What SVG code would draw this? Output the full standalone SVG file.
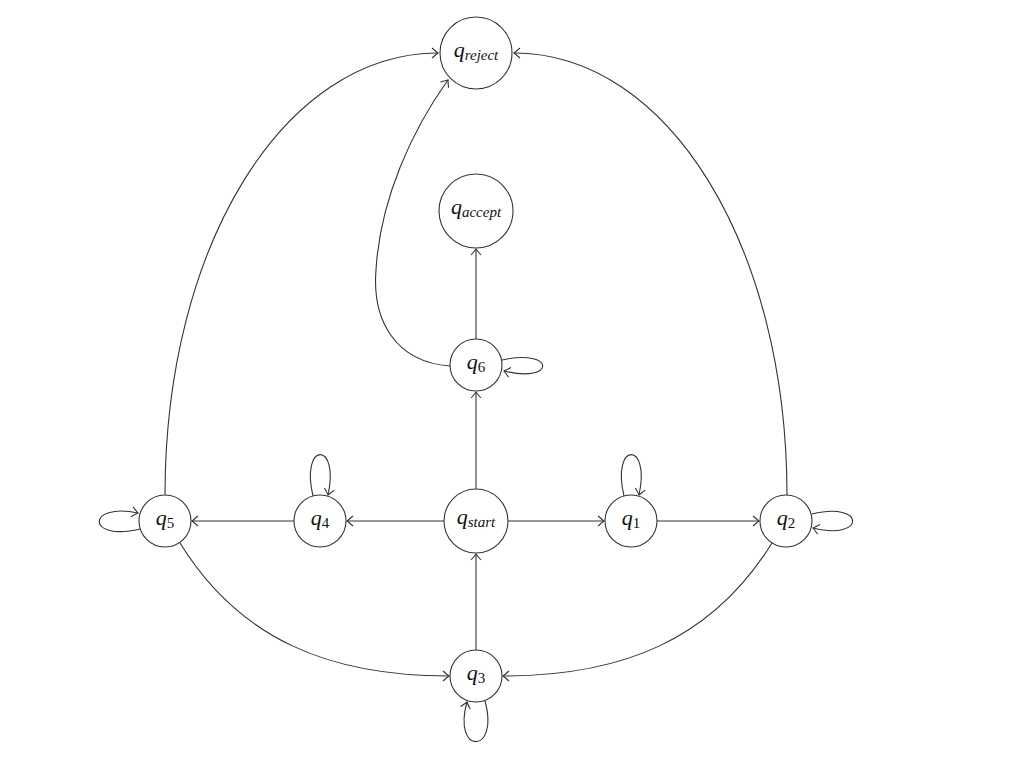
<svg xmlns="http://www.w3.org/2000/svg" width="1024" height="763" viewBox="0 0 1024 763">
<style>
.st{fill:#fff;stroke:#333;stroke-width:1.1}
.e{fill:none;stroke:#333;stroke-width:1.1;marker-end:url(#ah)}
.l{font-family:"Liberation Serif","DejaVu Serif",serif;font-style:italic;fill:#111;font-size:22px}
.s{font-size:15px}
.d{font-size:15px;font-style:normal}
</style>
<defs>
<marker id="ah" markerUnits="userSpaceOnUse" markerWidth="14" markerHeight="14" viewBox="-8 -7 10 14" refX="0" refY="0" orient="auto">
<path d="M-6,-5 Q-1.5,-1 0,0 Q-1.5,1 -6,5" fill="none" stroke="#333" stroke-width="1.1"/>
</marker>
</defs>
<rect width="1024" height="763" fill="#fff"/>
<g id="connectors">
<path class="e" d="M165,495 C165,246 284,53 438,53"/>
<path class="e" d="M787,495 C787,246 668,53 514,53"/>
<path class="e" d="M450,366 C395,362 372,320 376,270 C380,200 412,130 448,80"/>
<path class="e" d="M476,339 L476,249"/>
<path class="e" d="M476,489 L476,392"/>
<path class="e" d="M444,521 L347,521"/>
<path class="e" d="M294,521 L192,521"/>
<path class="e" d="M508,521 L604,521"/>
<path class="e" d="M657,521 L759,521"/>
<path class="e" d="M476,650 L476,554"/>
<path class="e" d="M180,543 C240,640 330,676 449,676"/>
<path class="e" d="M772,543 C712,640 622,676 503,676"/>
<path class="e" d="M313,496 C300,441 340,441 328,495"/>
<path class="e" d="M624,496 C611,441 651,441 639,495"/>
<path class="e" d="M502,360 C556,348 556,384 504,371"/>
<path class="e" d="M812,514 C866,501 866,541 813,528"/>
<path class="e" d="M140,529 C86,542 86,502 138,513"/>
<path class="e" d="M485,701 C500,755 452,755 467,702"/>
</g>
<g id="q_reject"><circle class="st" cx="476" cy="53" r="36"/><text class="l" x="476" y="57" text-anchor="middle">q<tspan class="s" dy="3">reject</tspan></text></g>
<g id="q_accept"><circle class="st" cx="476" cy="211" r="37"/><text class="l" x="476" y="214" text-anchor="middle">q<tspan class="s" dy="3">accept</tspan></text></g>
<g id="q6"><circle class="st" cx="476" cy="365" r="26"/><text class="l" x="476" y="369" text-anchor="middle">q<tspan class="d" dy="3">6</tspan></text></g>
<g id="q_start"><circle class="st" cx="476" cy="521" r="32"/><text class="l" x="476" y="524" text-anchor="middle">q<tspan class="s" dy="3">start</tspan></text></g>
<g id="q4"><circle class="st" cx="320" cy="521" r="26"/><text class="l" x="320" y="525" text-anchor="middle">q<tspan class="d" dy="3">4</tspan></text></g>
<g id="q5"><circle class="st" cx="165" cy="521" r="26"/><text class="l" x="165" y="525" text-anchor="middle">q<tspan class="d" dy="3">5</tspan></text></g>
<g id="q1"><circle class="st" cx="631" cy="521" r="26"/><text class="l" x="631" y="525" text-anchor="middle">q<tspan class="d" dy="3">1</tspan></text></g>
<g id="q2"><circle class="st" cx="786" cy="521" r="26"/><text class="l" x="786" y="525" text-anchor="middle">q<tspan class="d" dy="3">2</tspan></text></g>
<g id="q3"><circle class="st" cx="476" cy="676" r="26"/><text class="l" x="476" y="680" text-anchor="middle">q<tspan class="d" dy="3">3</tspan></text></g>
</svg>
